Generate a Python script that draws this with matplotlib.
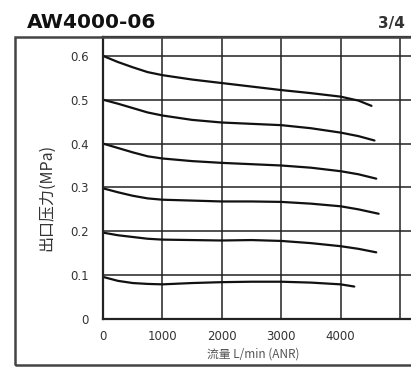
import matplotlib
matplotlib.use('Agg')
import matplotlib.pyplot as plt
from matplotlib.patches import Rectangle

# flow (L/min) vs outlet pressure (MPa), one curve per set pressure
flow_06 = [0, 250, 500, 750, 1000, 1500, 2000, 2500, 3000, 3500, 4000, 4300, 4520]
pres_06 = [0.600, 0.586, 0.574, 0.563, 0.556, 0.546, 0.538, 0.530, 0.522, 0.515, 0.507, 0.498, 0.486]

flow_05 = [0, 250, 500, 750, 1000, 1500, 2000, 2500, 3000, 3500, 4000, 4300, 4570]
pres_05 = [0.500, 0.491, 0.481, 0.471, 0.464, 0.454, 0.448, 0.445, 0.442, 0.435, 0.425, 0.417, 0.407]

flow_04 = [0, 250, 500, 750, 1000, 1500, 2000, 2500, 3000, 3500, 4000, 4300, 4600]
pres_04 = [0.400, 0.390, 0.380, 0.371, 0.366, 0.360, 0.356, 0.353, 0.350, 0.345, 0.337, 0.330, 0.320]

flow_03 = [0, 250, 500, 750, 1000, 1500, 2000, 2500, 3000, 3500, 4000, 4300, 4640]
pres_03 = [0.298, 0.289, 0.281, 0.275, 0.272, 0.270, 0.268, 0.268, 0.267, 0.263, 0.257, 0.250, 0.240]

flow_02 = [0, 250, 500, 750, 1000, 1500, 2000, 2500, 3000, 3500, 4000, 4300, 4600]
pres_02 = [0.197, 0.191, 0.187, 0.183, 0.181, 0.180, 0.179, 0.180, 0.178, 0.173, 0.166, 0.160, 0.152]

flow_01 = [0, 250, 500, 750, 1000, 1500, 2000, 2500, 3000, 3500, 4000, 4230]
pres_01 = [0.096, 0.087, 0.082, 0.080, 0.079, 0.082, 0.084, 0.085, 0.085, 0.083, 0.079, 0.074]

x_ticks = [0, 1000, 2000, 3000, 4000, 5000]
x_ticklabels = ['0', '1000', '2000', '3000', '4000', '']
y_ticks = [0, 0.1, 0.2, 0.3, 0.4, 0.5, 0.6]
y_ticklabels = ['0', '0.1', '0.2', '0.3', '0.4', '0.5', '0.6']

W, H = 411, 369
fig = plt.figure(figsize=(W / 100, H / 100), dpi=100)

# axes box in pixels: left 103, right past the figure edge, bottom 319, top 37
ax = fig.add_axes([103 / W, (H - 319) / H, (430 - 103) / W, (319 - 37) / H])
ax.set_xlim(0, 5505)
ax.set_ylim(0, 0.643)

for fx, py in [(flow_06, pres_06), (flow_05, pres_05), (flow_04, pres_04),
               (flow_03, pres_03), (flow_02, pres_02), (flow_01, pres_01)]:
    ax.plot(fx, py, color='#111111', lw=1.6, solid_capstyle='round',
            solid_joinstyle='round')

ax.set_xticks(x_ticks)
ax.set_xticklabels(x_ticklabels)
ax.set_yticks(y_ticks)
ax.set_yticklabels(y_ticklabels)
ax.grid(True, color='#222222', lw=1.1)
ax.tick_params(length=0, labelsize=8.5, colors='#333333')
ax.tick_params(axis='y', pad=10)
ax.tick_params(axis='x', pad=8)
for side in ['left', 'bottom', 'top']:
    ax.spines[side].set_color('#222222')
    ax.spines[side].set_linewidth(1.6)
ax.spines['right'].set_visible(False)

cjk = ['Noto Sans CJK SC', 'DejaVu Sans']
ax.set_ylabel('出口压力(MPa)', family=cjk, fontsize=11.5, color='#333333')
ax.yaxis.set_label_coords(-0.145, 0.43)
ax.set_xlabel('流量 L/min (ANR)', family=cjk, fontsize=8.5, color='#555555')
ax.xaxis.set_label_coords((253 - 103) / (430 - 103), -0.1)

# outer frame around the chart
fig.patches.append(Rectangle((15 / W, (H - 365) / H), 1.2, (365 - 37) / H,
                             transform=fig.transFigure, fill=False,
                             edgecolor='#444444', lw=1.8))

fig.text(27 / W, 1 - 28 / H, 'AW4000-06', fontsize=14.5, fontweight='bold',
         color='#111111', va='baseline', ha='left')
fig.text(405 / W, 1 - 28 / H, '3/4', fontsize=11, fontweight='bold',
         color='#333333', va='baseline', ha='right')

fig.savefig('out.png', dpi=100)
